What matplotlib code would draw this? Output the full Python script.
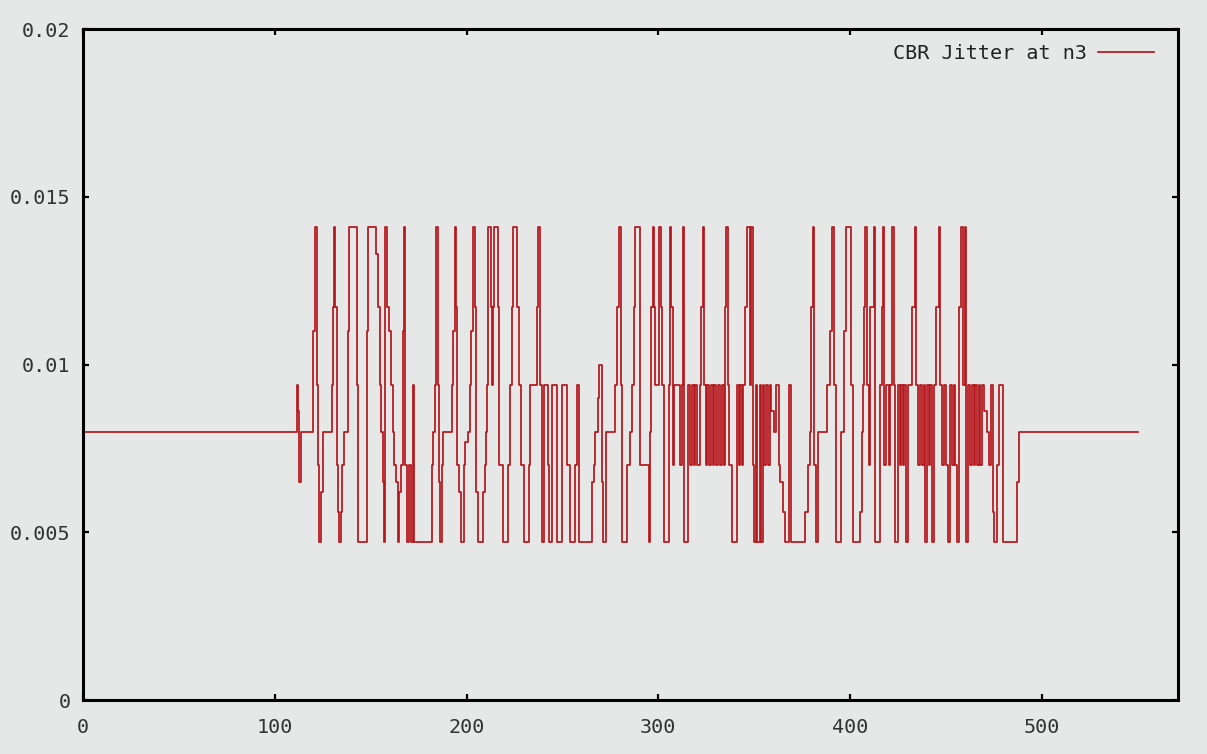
import matplotlib
matplotlib.use("Agg")
import matplotlib.pyplot as plt

# CBR jitter at n3 (step changes: time, jitter)
time = [
    0, 111.4, 112.3, 112.8, 113.7, 120.1, 121.0, 121.9, 122.4, 122.9, 123.9, 125.0,
    129.7, 130.5, 130.9, 131.6, 132.3, 133.2, 133.7, 134.5, 135.1, 136.1, 138.0, 138.9,
    142.7, 143.6, 147.9, 148.8, 152.8, 154.0, 154.9, 155.4, 156.3, 157.2, 157.7, 158.7,
    159.8, 160.5, 161.5, 162.2, 163.3, 164.1, 165.0, 165.8, 166.7, 167.1, 167.6, 168.1,
    169.0, 170.0, 170.9, 171.9, 172.5, 181.9, 182.7, 183.6, 184.1, 185.0, 185.7, 186.2,
    187.1, 187.9, 192.3, 193.1, 194.0, 194.5, 195.2, 196.3, 197.1, 198.4, 199.2, 201.0,
    201.8, 202.4, 203.2, 204.6, 205.1, 205.7, 208.8, 209.7, 210.2, 210.9, 211.4, 212.6,
    213.3, 214.0, 214.5, 216.3, 217.1, 219.2, 221.8, 222.7, 223.6, 224.1, 226.2, 227.1,
    228.3, 230.0, 232.3, 233.1, 236.6, 237.5, 238.4, 239.2, 240.4, 242.2, 243.2, 244.4,
    247.1, 249.7, 252.6, 254.0, 256.6, 257.5, 258.4, 265.3, 266.2, 267.1, 268.3, 269.3,
    270.4, 271.4, 272.5, 277.5, 278.7, 279.4, 280.5, 281.1, 283.6, 285.0, 286.2, 287.4,
    287.9, 290.5, 294.9, 295.8, 296.4, 297.1, 297.8, 298.5, 300.6, 301.3, 302.0, 302.7,
    305.3, 306.2, 306.7, 307.4, 308.3, 311.4, 312.3, 312.8, 313.5, 315.6, 316.6, 317.5,
    318.4, 319.2, 320.4, 321.5, 322.2, 323.2, 323.9, 324.6, 325.3, 326.4, 327.4, 328.4,
    329.1, 330.2, 331.2, 332.3, 333.3, 334.0, 334.9, 335.4, 336.1, 337.1, 338.4, 341.0,
    341.8, 342.7, 343.6, 344.4, 345.3, 346.2, 347.6, 348.3, 349.3, 350.0, 351.1, 351.7,
    352.8, 353.5, 354.5, 355.2, 356.3, 357.0, 358.0, 358.7, 360.1, 361.5, 362.7, 363.6,
    365.0, 366.2, 367.9, 369.1, 376.6, 377.8, 378.9, 379.6, 380.4, 381.3, 382.0, 383.0,
    387.9, 389.3, 390.5, 391.7, 392.8, 395.2, 396.6, 398.0, 400.5, 401.5, 405.3, 406.2,
    406.7, 407.4, 407.9, 408.8, 409.7, 410.6, 412.3, 412.8, 413.2, 415.8, 416.6, 417.2,
    417.9, 418.9, 420.1, 421.0, 421.9, 422.7, 423.6, 424.8, 425.9, 426.6, 427.6, 428.3,
    429.0, 430.0, 432.3, 433.7, 434.4, 435.2, 436.6, 437.5, 438.4, 439.2, 440.1, 441.0,
    441.9, 442.7, 443.6, 445.0, 446.2, 447.1, 447.9, 449.2, 450.2, 450.9, 451.9, 453.2,
    454.0, 454.9, 455.8, 456.8, 457.9, 458.9, 459.9, 460.6, 461.7, 462.7, 463.6, 464.5,
    465.3, 466.2, 467.1, 467.9, 468.8, 470.0, 471.4, 472.5, 473.5, 474.5, 475.2, 476.6,
    477.7, 479.6, 487.1, 487.9, 550.0,
]
jitter = [
    0.0080, 0.0094, 0.0086, 0.0065, 0.0080, 0.0110, 0.0141, 0.0094, 0.0070, 0.0047, 0.0062, 0.0080,
    0.0094, 0.0117, 0.0141, 0.0117, 0.0070, 0.0056, 0.0047, 0.0056, 0.0070, 0.0080, 0.0110, 0.0141,
    0.0094, 0.0047, 0.0110, 0.0141, 0.0133, 0.0117, 0.0094, 0.0080, 0.0065, 0.0047, 0.0141, 0.0117,
    0.0110, 0.0094, 0.0080, 0.0070, 0.0065, 0.0047, 0.0062, 0.0070, 0.0094, 0.0110, 0.0141, 0.0070,
    0.0047, 0.0070, 0.0047, 0.0094, 0.0047, 0.0070, 0.0080, 0.0094, 0.0141, 0.0094, 0.0065, 0.0047,
    0.0070, 0.0080, 0.0094, 0.0110, 0.0141, 0.0117, 0.0070, 0.0062, 0.0047, 0.0070, 0.0077, 0.0080,
    0.0094, 0.0110, 0.0141, 0.0117, 0.0062, 0.0047, 0.0062, 0.0070, 0.0080, 0.0094, 0.0141, 0.0117,
    0.0094, 0.0117, 0.0141, 0.0117, 0.0070, 0.0047, 0.0070, 0.0094, 0.0117, 0.0141, 0.0117, 0.0094,
    0.0070, 0.0047, 0.0070, 0.0094, 0.0117, 0.0141, 0.0094, 0.0047, 0.0094, 0.0070, 0.0047, 0.0094,
    0.0047, 0.0094, 0.0070, 0.0047, 0.0070, 0.0094, 0.0047, 0.0065, 0.0070, 0.0080, 0.0090, 0.0100,
    0.0065, 0.0047, 0.0080, 0.0094, 0.0117, 0.0141, 0.0094, 0.0047, 0.0070, 0.0080, 0.0094, 0.0117,
    0.0141, 0.0070, 0.0047, 0.0080, 0.0117, 0.0141, 0.0117, 0.0094, 0.0141, 0.0117, 0.0094, 0.0047,
    0.0094, 0.0141, 0.0117, 0.0070, 0.0094, 0.0070, 0.0094, 0.0141, 0.0047, 0.0094, 0.0070, 0.0094,
    0.0070, 0.0094, 0.0070, 0.0094, 0.0117, 0.0141, 0.0094, 0.0070, 0.0094, 0.0070, 0.0094, 0.0070,
    0.0094, 0.0070, 0.0094, 0.0070, 0.0094, 0.0070, 0.0117, 0.0141, 0.0094, 0.0070, 0.0047, 0.0094,
    0.0070, 0.0094, 0.0070, 0.0094, 0.0117, 0.0141, 0.0094, 0.0141, 0.0070, 0.0047, 0.0094, 0.0047,
    0.0094, 0.0047, 0.0094, 0.0070, 0.0094, 0.0070, 0.0094, 0.0086, 0.0080, 0.0094, 0.0070, 0.0065,
    0.0056, 0.0047, 0.0094, 0.0047, 0.0056, 0.0070, 0.0080, 0.0117, 0.0141, 0.0070, 0.0047, 0.0080,
    0.0094, 0.0110, 0.0141, 0.0094, 0.0047, 0.0080, 0.0110, 0.0141, 0.0094, 0.0047, 0.0056, 0.0080,
    0.0094, 0.0117, 0.0141, 0.0094, 0.0070, 0.0117, 0.0141, 0.0094, 0.0047, 0.0094, 0.0117, 0.0141,
    0.0070, 0.0094, 0.0070, 0.0094, 0.0141, 0.0094, 0.0047, 0.0094, 0.0070, 0.0094, 0.0070, 0.0094,
    0.0047, 0.0094, 0.0117, 0.0141, 0.0094, 0.0070, 0.0094, 0.0070, 0.0094, 0.0047, 0.0094, 0.0070,
    0.0094, 0.0047, 0.0094, 0.0117, 0.0141, 0.0094, 0.0070, 0.0094, 0.0070, 0.0047, 0.0094, 0.0070,
    0.0094, 0.0070, 0.0047, 0.0117, 0.0141, 0.0094, 0.0141, 0.0047, 0.0094, 0.0070, 0.0094, 0.0070,
    0.0094, 0.0070, 0.0094, 0.0070, 0.0094, 0.0086, 0.0080, 0.0070, 0.0094, 0.0056, 0.0047, 0.0070,
    0.0094, 0.0047, 0.0065, 0.0080, 0.0080,
]

x_ticks = [0, 100, 200, 300, 400, 500]
y_ticks = [0, 0.005, 0.01, 0.015, 0.02]
y_labels = ["0", "0.005", "0.01", "0.015", "0.02"]

bg = "#e6e8e8"
plt.rcParams["font.family"] = ["DejaVu Sans Mono"]

fig = plt.figure(figsize=(12.07, 7.54), dpi=100, facecolor=bg)
ax = fig.add_axes([0.0688, 0.0716, 0.9072, 0.8899])
ax.set_facecolor(bg)

ax.plot(time, jitter, drawstyle="steps-post", color="#b5161b", lw=1.25,
        label="CBR Jitter at n3")

ax.set_xlim(0, 571)
ax.set_ylim(0, 0.02)
ax.set_xticks(x_ticks)
ax.set_yticks(y_ticks)
ax.set_yticklabels(y_labels)

for s in ax.spines.values():
    s.set_linewidth(2.2)
    s.set_color("black")
ax.tick_params(direction="in", length=4.5, width=1.6, top=True, right=True,
               labelsize=14.5, labelcolor="#333333")
ax.tick_params(axis="x", pad=13)
ax.tick_params(axis="y", pad=9)

leg = ax.legend(loc="upper right", bbox_to_anchor=(0.9854, 0.9896), borderaxespad=0,
                frameon=False, markerfirst=False, fontsize=14.5,
                handlelength=2.8, handletextpad=0.55)
for t in leg.get_texts():
    t.set_color("#222222")

fig.savefig("out.png", dpi=100, facecolor=bg)
